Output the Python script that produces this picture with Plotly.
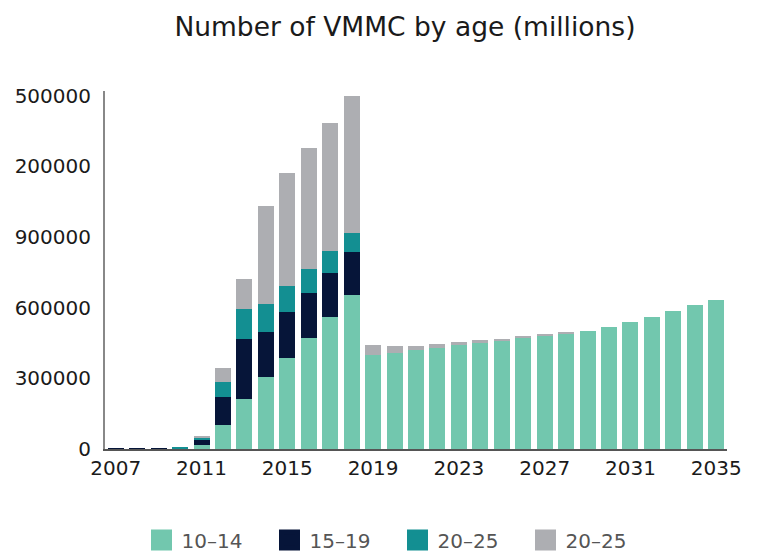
import plotly.graph_objects as go

years = list(range(2007, 2036))
age_10_14 = [0, 0, 0, 2000, 17000, 102000, 212000, 306000, 387000, 472000, 561000, 654000,
             399000, 408000, 422000, 430000, 442000, 450000, 459000, 475000, 483000, 492000,
             501000, 518000, 540000, 561000, 586000, 612000, 633000]
age_15_19 = [2000, 2000, 2000, 0, 25000, 119000, 255000, 191000, 195000, 191000, 187000, 183000,
             0, 0, 0, 0, 0, 0, 0, 0, 0, 0, 0, 0, 0, 0, 0, 0, 0]
age_20_25a = [0, 0, 0, 5000, 5000, 64000, 128000, 119000, 111000, 102000, 93000, 81000,
              0, 0, 0, 0, 0, 0, 0, 0, 0, 0, 0, 0, 0, 0, 0, 0, 0]
age_20_25b = [0, 0, 0, 0, 8000, 59000, 127000, 417000, 480000, 514000, 544000, 582000,
              43000, 30000, 16000, 16000, 13000, 13000, 8000, 2000, 2000, 2000, 0, 0, 0, 0, 0, 0, 0]

series_names = ["10–14", "15–19", "20–25", "20–25"]
series_values = [age_10_14, age_15_19, age_20_25a, age_20_25b]
colors = ["#72C7AE", "#061539", "#138F92", "#ADAEB2"]

y_tick_vals = [0, 300000, 600000, 900000, 1200000, 1500000]
y_tick_text = ["0", "300000", "600000", "900000", "200000", "500000"]
x_tick_vals = [2007, 2011, 2015, 2019, 2023, 2027, 2031, 2035]

FONT = "DejaVu Sans"

fig = go.Figure()
for i, (name, vals, col) in enumerate(zip(series_names, series_values, colors)):
    fig.add_trace(go.Bar(x=years, y=vals, name=name, legendgroup=f"g{i}", showlegend=False,
                         marker=dict(color=col, line=dict(width=0))))
# legend entries with large square swatches
for i, (name, col) in enumerate(zip(series_names, colors)):
    fig.add_trace(go.Scatter(x=[None], y=[None], mode="markers", name=name, legendgroup=f"g{i}",
                             marker=dict(symbol="square", size=16, color=col,
                                         line=dict(color=col, width=8))))

fig.update_layout(
    barmode="stack",
    bargap=0.255,
    width=759, height=554,
    margin=dict(l=96.5, r=40.3, t=83, b=113, autoexpand=False),
    paper_bgcolor="white", plot_bgcolor="white",
    font=dict(family=FONT, color="#1a1a1a", size=20),
    title=dict(text="Number of VMMC by age (millions)", x=0.523, xanchor="center",
               y=0.967, yanchor="middle", font=dict(size=26.5, family=FONT, color="#1a1a1a")),
    showlegend=True,
    legend=dict(orientation="h", x=0.0587, xanchor="left", y=-0.254, yanchor="middle",
                traceorder="normal", font=dict(size=20, color="#555555"),
                itemwidth=30, entrywidth=83, itemsizing="trace"),
    xaxis=dict(range=[2006.5, 2035.5], tickvals=x_tick_vals, ticktext=[str(v) for v in x_tick_vals],
               showgrid=False, zeroline=False, showline=True, linecolor="#555555", linewidth=2,
               ticks="", automargin=False, tickfont=dict(size=20, color="#1a1a1a")),
    yaxis=dict(range=[0, 1520000], tickvals=y_tick_vals, ticktext=y_tick_text,
               showgrid=False, zeroline=False, showline=True, linecolor="#888888", linewidth=2,
               ticks="", ticklabelstandoff=8, automargin=False, tickfont=dict(size=20, color="#1a1a1a")),
)

fig.write_html("out.html")
